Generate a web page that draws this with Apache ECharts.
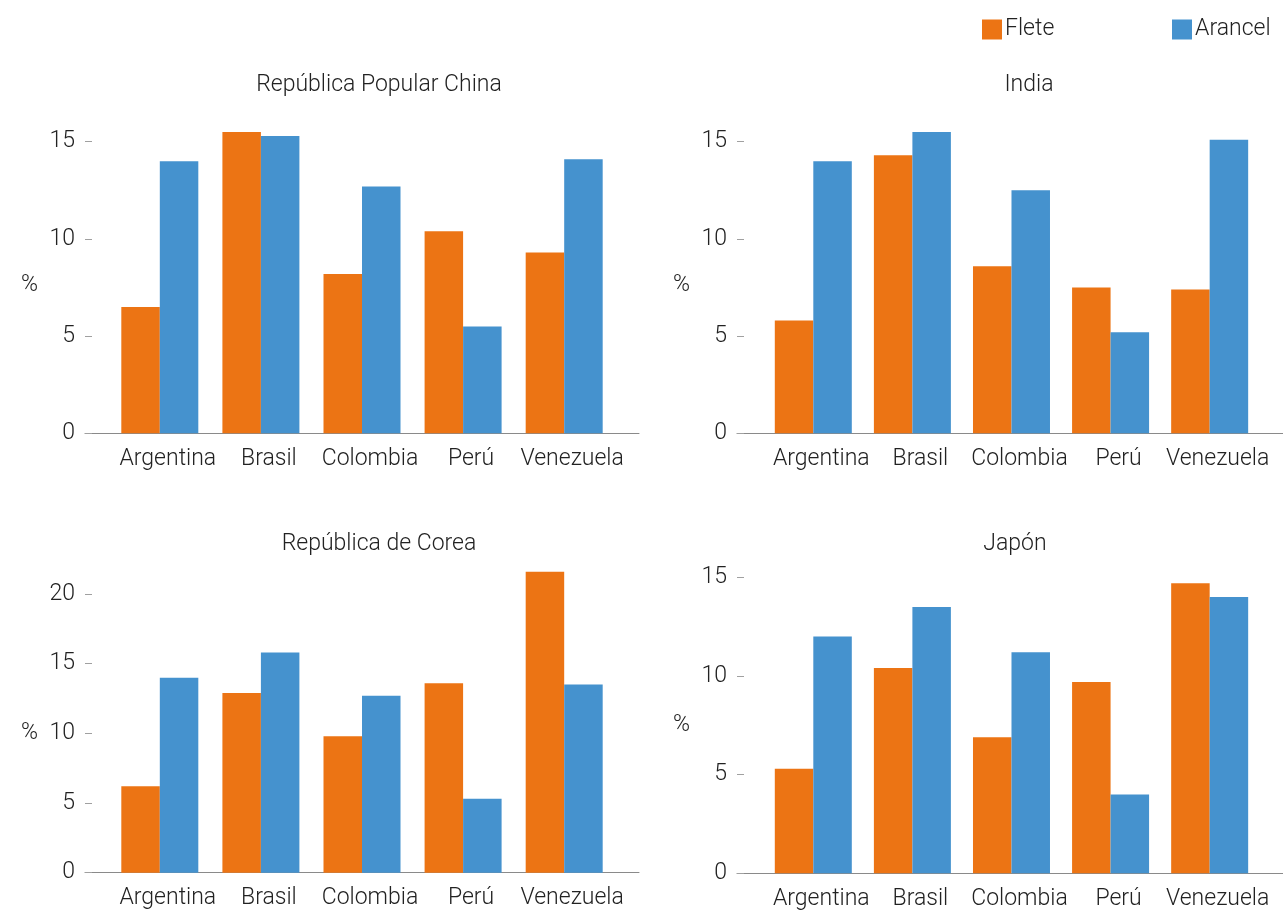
<!DOCTYPE html>
<html>
<head>
<meta charset="utf-8">
<script src="https://cdn.jsdelivr.net/npm/echarts@6/dist/echarts.min.js"></script>
<style>
  html, body { margin: 0; padding: 0; background: #fff; }
  #chart { width: 1283px; height: 912px; }
</style>
</head>
<body>
<div id="chart"></div>
<script>
// Countries on the horizontal axis of every panel
const categories = ['Argentina', 'Brasil', 'Colombia', 'Perú', 'Venezuela'];

// Panel titles (trading partners)
const panelTitles = ['República Popular China', 'India', 'República de Corea', 'Japón'];

// Freight (Flete) and tariff (Arancel) percentages per panel
const fleteChina   = [6.5, 15.5, 8.2, 10.4, 9.3];
const arancelChina = [14.0, 15.3, 12.7, 5.5, 14.1];

const fleteIndia   = [5.8, 14.3, 8.6, 7.5, 7.4];
const arancelIndia = [14.0, 15.5, 12.5, 5.2, 15.1];

const fleteCorea   = [6.2, 12.9, 9.8, 13.6, 21.6];
const arancelCorea = [14.0, 15.8, 12.7, 5.3, 13.5];

const fleteJapon   = [5.3, 10.4, 6.9, 9.7, 14.7];
const arancelJapon = [12.0, 13.5, 11.2, 4.0, 14.0];

// Tick labels of the value axes
const ticksTop = [0, 5, 10, 15];
const ticksCorea = [0, 5, 10, 15, 20];
const ticksJapon = [0, 5, 10, 15];

const FONT = 'Roboto';
const TEXT = '#222';
const ORANGE = '#EC7414';
const BLUE = '#4592CE';

const panels = [
  { flete: fleteChina, arancel: arancelChina, ticks: ticksTop,   yMax: 16, xMin: -0.74,
    grid: { left: 85,  width: 554, top: 122.3, height: 311 },   titleLeft: 374,  titleTop: 69,  nameLH: 14 },
  { flete: fleteIndia, arancel: arancelIndia, ticks: ticksTop,   yMax: 16, xMin: -0.77,
    grid: { left: 737, width: 557, top: 122.3, height: 311 },   titleLeft: 1024, titleTop: 69,  nameLH: 15 },
  { flete: fleteCorea, arancel: arancelCorea, ticks: ticksCorea, yMax: 22, xMin: -0.74,
    grid: { left: 85,  width: 554, top: 566.2, height: 306.5 }, titleLeft: 374,  titleTop: 528, nameLH: 27 },
  { flete: fleteJapon, arancel: arancelJapon, ticks: ticksJapon, yMax: 16, xMin: -0.77,
    grid: { left: 737, width: 557, top: 557.6, height: 315.7 }, titleLeft: 1010, titleTop: 528, nameLH: 19 }
];

const toPoints = arr => arr.map((v, i) => [i, v]);

const option = {
  backgroundColor: '#fff',
  animation: false,
  textStyle: { fontFamily: FONT, fontWeight: 300, color: TEXT },
  title: panels.map((p, i) => ({
    text: panelTitles[i],
    left: p.titleLeft,
    top: p.titleTop,
    textAlign: 'center',
    textStyle: { fontFamily: FONT, fontWeight: 300, fontSize: 23, color: TEXT }
  })),
  legend: [
    { data: ['Flete'], left: 977, top: 13 },
    { data: ['Arancel'], left: 1167, top: 13 }
  ].map(l => Object.assign(l, {
    icon: 'rect', itemWidth: 20, itemHeight: 20, itemGap: 0, selectedMode: false,
    textStyle: { fontFamily: FONT, fontWeight: 300, fontSize: 23, color: TEXT, padding: [0, 0, 0, -2] }
  })),
  grid: panels.map(p => Object.assign({ containLabel: false }, p.grid)),
  xAxis: panels.map((p, i) => ({
    type: 'value',
    gridIndex: i,
    min: p.xMin,
    max: 4.74,
    splitLine: { show: false },
    axisTick: { show: false },
    axisLine: { show: true, onZero: false, lineStyle: { color: '#8a8a8a', width: 1 } },
    axisLabel: {
      customValues: [0, 1, 2, 3, 4],
      formatter: v => categories[v],
      fontFamily: FONT, fontWeight: 300, fontSize: 23, color: TEXT,
      margin: 14, padding: [0, 0, 0, 16]
    }
  })),
  yAxis: panels.map((p, i) => ({
    type: 'value',
    gridIndex: i,
    min: 0,
    max: p.yMax,
    name: '%',
    nameLocation: 'middle',
    nameRotate: 0,
    nameGap: 47,
    nameTextStyle: { fontFamily: FONT, fontWeight: 300, fontSize: 23, color: TEXT, verticalAlign: 'top', lineHeight: p.nameLH },
    splitLine: { show: false },
    axisLine: { show: false, onZero: false },
    axisTick: { show: true, inside: true, length: 7, customValues: p.ticks, lineStyle: { color: '#a0a0a0' } },
    axisLabel: { customValues: p.ticks, fontFamily: FONT, fontWeight: 300, fontSize: 23, color: TEXT, margin: 10 }
  })),
  series: panels.flatMap((p, i) => [
    { name: 'Flete', type: 'bar', xAxisIndex: i, yAxisIndex: i, data: toPoints(p.flete),
      barWidth: 38.5, barGap: '0%', itemStyle: { color: ORANGE } },
    { name: 'Arancel', type: 'bar', xAxisIndex: i, yAxisIndex: i, data: toPoints(p.arancel),
      barWidth: 38.5, barGap: '0%', itemStyle: { color: BLUE } }
  ])
};

const chart = echarts.init(document.getElementById('chart'), null, { renderer: 'canvas' });
chart.setOption(option);
</script>
</body>
</html>
